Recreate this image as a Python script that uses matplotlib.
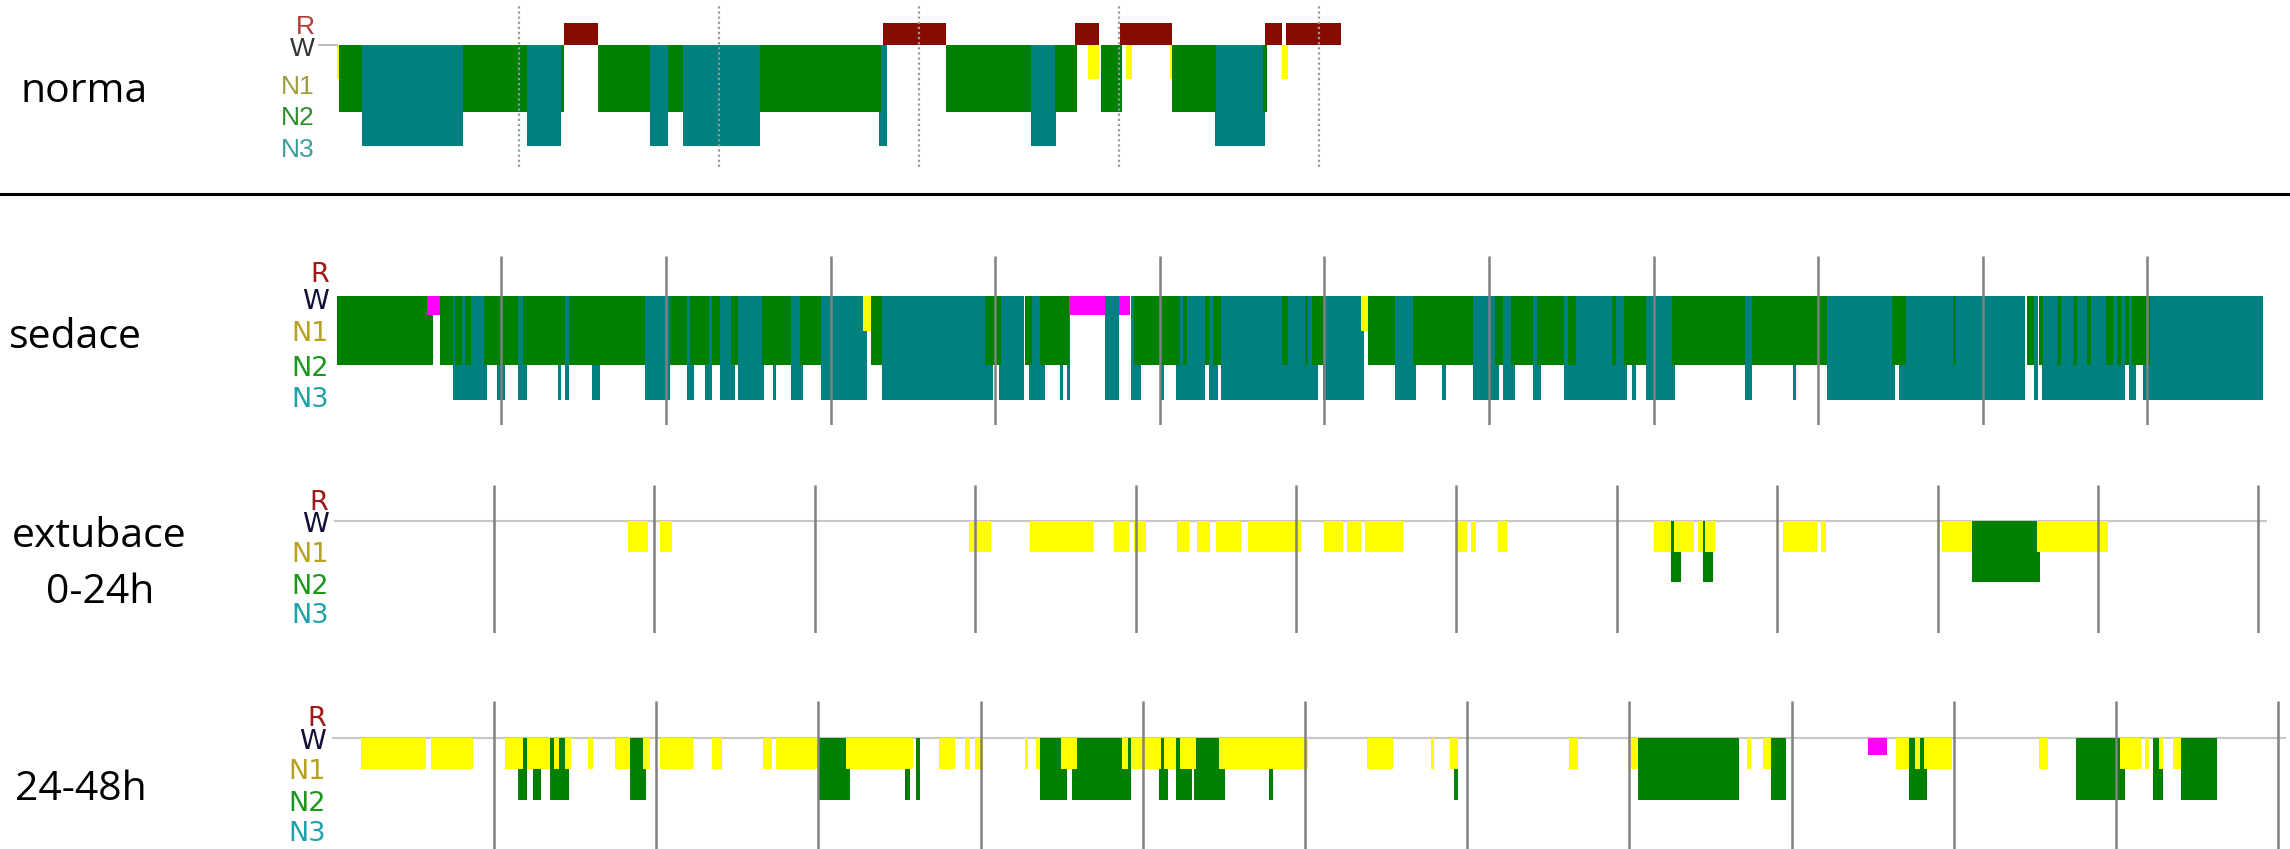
import matplotlib
matplotlib.use("Agg")
import matplotlib.pyplot as plt
from matplotlib import font_manager
from matplotlib.lines import Line2D

# Hypnogram data, all times in minutes from start of each recording: (start, end)

# normal night
norma_wake = [(-6.0, -0.7)]
norma_n1 = [(-0.7, -0.1), (224.7, 228.0), (236.1, 237.9), (249.2, 250.0), (282.8, 284.6)]
norma_n2 = [(0.1, 7.0), (37.3, 56.3), (66.7, 67.4), (77.7, 93.2), (98.8, 103.1), (126.4, 162.5),
            (182.2, 207.7), (214.8, 221.5), (228.6, 234.9), (250.0, 263.0), (277.2, 278.4)]
norma_n3 = [(7.0, 37.3), (56.3, 66.7), (93.2, 98.8), (103.1, 126.4), (161.9, 164.3),
            (207.7, 215.2), (262.7, 277.7)]
norma_rem = [(67.4, 77.7), (163.2, 182.2), (220.8, 227.9), (234.2, 249.9), (277.7, 282.8), (284.1, 300.5)]
norma_marks = [54, 114, 174, 234, 294]

# sedation
sed_n1 = [(192.0, 194.8), (373.3, 375.9)]
sed_n2 = [(0.0, 35.0), (37.6, 42.4), (43.3, 45.6), (46.9, 49.1), (53.6, 66.0), (67.9, 83.3),
          (84.6, 112.2), (121.5, 127.6), (128.7, 135.8), (136.7, 139.9), (143.6, 146.4),
          (154.9, 165.5), (168.7, 176.6), (194.8, 198.7), (236.2, 242.0), (250.8, 253.5),
          (256.5, 267.1), (290.6, 307.4), (308.6, 310.0), (316.6, 318.0), (319.4, 322.4),
          (344.5, 346.6), (352.8, 354.2), (355.4, 359.5), (375.9, 385.6), (392.2, 414.3),
          (422.2, 425.2), (428.1, 436.0), (437.5, 447.3), (448.7, 451.7), (465.0, 466.4),
          (469.1, 477.4), (486.7, 513.2), (515.9, 543.3), (567.0, 571.9), (589.0, 590.4),
          (616.1, 618.7), (620.5, 621.9), (627.0, 628.4), (632.9, 634.3), (638.2, 639.6),
          (644.9, 647.5), (649.1, 650.5), (652.0, 653.4), (654.6, 661.1)]
sed_n3 = [(42.4, 54.9), (58.6, 61.3), (66.0, 69.4), (80.6, 81.8), (83.3, 84.6), (93.0, 95.8),
          (112.2, 121.5), (127.6, 130.2), (134.1, 136.9), (139.9, 145.1), (146.4, 155.7),
          (159.0, 160.3), (165.5, 169.9), (176.6, 193.4), (198.7, 239.3), (241.5, 250.5),
          (252.2, 258.1), (263.6, 264.6), (266.2, 267.3), (280.0, 285.3), (289.5, 293.2),
          (300.5, 301.7), (305.8, 316.6), (318.0, 321.2), (322.4, 357.7), (359.5, 374.5),
          (385.6, 393.6), (403.0, 404.4), (414.3, 423.6), (425.2, 429.5), (436.0, 439.0),
          (447.3, 470.3), (472.1, 473.5), (477.4, 488.0), (513.2, 515.9), (530.9, 532.1),
          (543.3, 568.0), (569.6, 615.5), (618.7, 620.1), (621.7, 651.8), (653.5, 655.8),
          (658.5, 702.3)]
sed_mt = [(32.9, 37.6), (267.1, 280.0), (285.3, 289.2)]
sed_marks = [60, 120, 180, 240, 300, 360, 420, 480, 540, 600, 660]

# extubation 0-24h
ext_n1 = [(110.0, 117.6), (122.0, 126.8), (237.7, 245.9), (260.4, 284.0), (292.1, 297.6),
          (299.4, 303.9), (315.7, 319.9), (322.9, 327.8), (330.2, 339.6), (342.0, 361.9),
          (370.5, 377.7), (379.2, 384.2), (385.9, 400.0), (419.9, 423.9), (425.4, 427.2),
          (435.7, 439.0), (493.8, 500.2), (501.5, 508.9), (510.5, 512.1), (513.2, 516.8),
          (542.2, 554.9), (556.4, 558.2), (601.7, 612.9), (637.1, 663.9)]
ext_n2 = [(500.2, 504.1), (512.1, 516.1), (612.9, 638.5)]
ext_marks = [60, 120, 180, 240, 300, 360, 420, 480, 540, 600, 660, 720]

# extubation 24-48h
late_n1 = [(10.9, 34.9), (36.8, 52.4), (64.1, 70.8), (72.1, 80.8), (82.1, 84.0), (86.2, 88.7),
           (94.7, 96.6), (104.7, 110.4), (115.1, 117.9), (121.3, 133.6), (140.6, 144.4),
           (159.5, 162.7), (164.2, 180.2), (190.4, 215.1), (224.6, 230.7), (234.3, 236.3),
           (238.1, 241.1), (256.4, 257.6), (260.5, 262.1), (269.8, 275.6), (292.2, 294.6),
           (295.8, 306.6), (307.8, 312.5), (313.8, 319.7), (328.1, 361.3), (382.8, 392.7),
           (406.5, 407.9), (413.6, 416.5), (457.6, 461.2), (480.6, 483.1), (523.6, 525.2),
           (529.3, 532.4), (578.6, 583.5), (585.8, 587.6), (588.9, 599.3), (631.5, 634.8),
           (661.7, 669.2), (670.6, 672.1), (675.8, 677.3), (681.0, 684.1)]
late_n2 = [(68.9, 72.1), (74.5, 77.4), (80.8, 87.7), (110.4, 116.4), (180.2, 191.8),
           (211.9, 213.9), (216.0, 217.5), (262.1, 272.0), (274.0, 295.8), (306.2, 309.3),
           (312.5, 318.2), (319.1, 330.4), (346.9, 348.2), (415.1, 416.5), (483.1, 520.7),
           (532.4, 538.0), (583.5, 590.3), (645.4, 663.4), (673.7, 677.6), (684.1, 697.5)]
late_mt = [(568.2, 575.4)]
late_marks = [60, 120, 180, 240, 300, 360, 420, 480, 540, 600, 660, 720]

stage_names = ["R", "W", "N1", "N2", "N3"]
row_titles = ["norma", "sedace", "extubace\n0-24h", "24-48h"]

# colours and depth of each stage below the W line
GREEN = "#008000"
TEAL = "#008080"
YELLOW = "#ffff00"
MAGENTA = "#ff00ff"
REM_RED = "#870c00"
DEPTH = {"R": 0.645, "MT": -0.54, "N1": -1.02, "N2": -2.0, "N3": -3.0}

FIG_W, FIG_H = 2290, 849
fig = plt.figure(figsize=(FIG_W / 100, FIG_H / 100), dpi=100)

available = {f.name for f in font_manager.fontManager.ttflist}
narrow = "Liberation Sans Narrow" if "Liberation Sans Narrow" in available else "Liberation Sans"


def add_panel(x0, px_per_min, xlim, w_y, px_per_unit, ylim):
    left = x0 + xlim[0] * px_per_min
    width = (xlim[1] - xlim[0]) * px_per_min
    top = w_y - ylim[1] * px_per_unit
    height = (ylim[1] - ylim[0]) * px_per_unit
    ax = fig.add_axes([left / FIG_W, 1 - (top + height) / FIG_H, width / FIG_W, height / FIG_H])
    ax.set_xlim(xlim)
    ax.set_ylim(ylim)
    ax.set_facecolor("none")
    ax.set_xticks([])
    for s in ax.spines.values():
        s.set_visible(False)
    return ax


def draw_stage(ax, segs, depth, color, z):
    if not segs:
        return
    ax.bar([s for s, e in segs], [depth] * len(segs), width=[e - s for s, e in segs],
           bottom=0, align="edge", color=color, linewidth=0, zorder=z)


def stage_labels(ax, pos, colors, size, family, pad):
    ax.set_yticks(pos)
    ax.set_yticklabels(stage_names, fontsize=size, family=family)
    for lbl, c in zip(ax.get_yticklabels(), colors):
        lbl.set_color(c)
    ax.tick_params(axis="y", length=0, pad=pad)


# Panel 1: normal sleep
ax1 = add_panel(339, 200 / 60, (-7, 305), 44.5, 33.8, (-3.63, 1.13))
draw_stage(ax1, norma_n3, DEPTH["N3"], TEAL, 2)
draw_stage(ax1, norma_n2, DEPTH["N2"], GREEN, 3)
draw_stage(ax1, norma_n1, DEPTH["N1"], YELLOW, 4)
draw_stage(ax1, norma_rem, DEPTH["R"], REM_RED, 5)
for s, e in norma_wake:
    ax1.plot([s, e], [0, 0], color="#b0b0b0", lw=1.2, zorder=1)
ax1.vlines(norma_marks, -3.63, 1.13, colors="#9a9a9a", lw=1.6, linestyles=(0, (1, 1.3)), zorder=6)
stage_labels(ax1, [0.58, -0.07, -1.17, -2.1, -3.05],
             ["#b03a3a", "#333333", "#9c9c3c", "#2e8b2e", "#3c9c9c"], 19, [narrow, "DejaVu Sans"], 0.5)

# Panel 2: sedation
ax2 = add_panel(336.7, 164.6 / 60, (0, 702.3), 296, 34.5, (-3.75, 1.16))
draw_stage(ax2, sed_n3, DEPTH["N3"], TEAL, 2)
draw_stage(ax2, sed_n2, DEPTH["N2"], GREEN, 3)
draw_stage(ax2, sed_n1, DEPTH["N1"], YELLOW, 4)
draw_stage(ax2, sed_mt, DEPTH["MT"], MAGENTA, 5)
ax2.vlines(sed_marks, -3.75, 1.16, colors="#808080", lw=1.8, zorder=6)

# Panel 3: first day after extubation
ax3 = add_panel(333.5, 160.4 / 60, (0, 723.2), 521, 30.3, (-3.70, 1.18))
ax3.axhline(0, color="#c8c8c8", lw=1.5, zorder=1)
draw_stage(ax3, ext_n2, DEPTH["N2"], GREEN, 3)
draw_stage(ax3, ext_n1, DEPTH["N1"], YELLOW, 4)
ax3.vlines(ext_marks, -3.70, 1.18, colors="#808080", lw=1.8, zorder=6)

# Panel 4: second day after extubation
ax4 = add_panel(331.7, 162.2 / 60, (0, 723.0), 738, 30.8, (-3.60, 1.19))
ax4.axhline(0, color="#c8c8c8", lw=1.5, zorder=1)
draw_stage(ax4, late_n2, DEPTH["N2"], GREEN, 3)
draw_stage(ax4, late_n1, DEPTH["N1"], YELLOW, 4)
draw_stage(ax4, late_mt, DEPTH["MT"], MAGENTA, 5)
ax4.vlines(late_marks, -3.60, 1.19, colors="#808080", lw=1.8, zorder=6)

wide_colors = ["#a01818", "#101038", "#b8a020", "#1e961e", "#20a0aa"]
stage_labels(ax2, [0.70, -0.09, -1.01, -2.03, -2.93], wide_colors, 19.5, "DejaVu Sans", 5.5)
stage_labels(ax3, [0.70, -0.03, -1.01, -2.08, -3.03], wide_colors, 19.5, "DejaVu Sans", 3.6)
stage_labels(ax4, [0.70, -0.02, -1.0, -2.03, -3.02], wide_colors, 19.5, "DejaVu Sans", 4.0)

# row titles on the left
title_font = dict(fontsize=29.5, family=["Open Sans", "DejaVu Sans"], ha="center", va="baseline")
fig.text(84 / FIG_W, 1 - 102 / FIG_H, row_titles[0], **title_font)
fig.text(75 / FIG_W, 1 - 348 / FIG_H, row_titles[1], **title_font)
ext_lines = row_titles[2].split("\n")
fig.text(99 / FIG_W, 1 - 547 / FIG_H, ext_lines[0], **title_font)
fig.text(100 / FIG_W, 1 - 603 / FIG_H, ext_lines[1], **title_font)
fig.text(81 / FIG_W, 1 - 800 / FIG_H, row_titles[3], **title_font)

# separator between the normal night and the patient recordings
fig.add_artist(Line2D([0, 1], [1 - 194 / FIG_H] * 2, transform=fig.transFigure, color="black", lw=2.2))

fig.savefig("out.png", dpi=100)
